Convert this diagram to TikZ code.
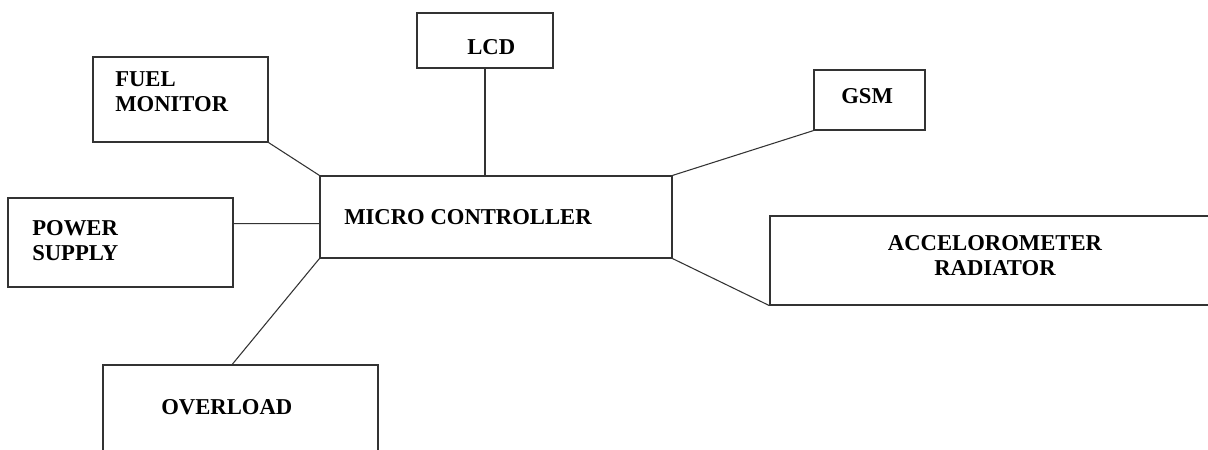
\documentclass[tikz,border=0pt]{standalone}
\usepackage{fontspec}
\setmainfont{Liberation Serif}
\usetikzlibrary{calc}

\begin{document}
\begin{tikzpicture}[x=0.75pt,y=-0.75pt,
  blk/.style={draw=black!80,line width=0.9pt,inner sep=0pt},
  lbl/.style={inner sep=0pt,font=\fontsize{17}{18.75}\selectfont\bfseries}]
\clip (0,0) rectangle (1208,450);
\fill[white] (0,0) rectangle (1208,450);
% blocks
\node[blk,minimum width=102pt,minimum height=41.25pt] (lcd) at (485,40.5) {};
\node[blk,minimum width=131.25pt,minimum height=63.75pt] (fuel) at (180.5,99.5) {};
\node[blk,minimum width=83.25pt,minimum height=45pt] (gsm) at (869.5,100) {};
\node[blk,minimum width=264pt,minimum height=61.5pt] (mc) at (496,217) {};
\node[blk,minimum width=168.75pt,minimum height=66.75pt] (ps) at (120.5,242.5) {};
\node[blk,minimum width=206.25pt,minimum height=78.75pt] (ovl) at (240.5,417.5) {};
\node[blk,minimum width=345pt,minimum height=66.75pt] (acc) at (1000,260.5) {};
% texts
\node[lbl,anchor=west] (lcdtxt) at (467,47) {LCD};
\node[lbl,anchor=west,align=left] (fueltxt) at (115,91.5) {FUEL\\MONITOR};
\node[lbl,anchor=west] (gsmtxt) at (841,96) {GSM};
\node[lbl,anchor=west] (mctxt) at (344,217) {MICRO CONTROLLER};
\node[lbl,anchor=west,align=left] (pstxt) at (32,241) {POWER\\SUPPLY};
\node[lbl,anchor=west] (ovltxt) at (161,407) {OVERLOAD};
\node[lbl,align=center] (acctxt) at (995,255.5) {ACCELOROMETER\\RADIATOR};
% links
\draw[black!80,line width=0.8pt] (fuel.south east) -- (mc.north west);
\draw[black!80,line width=0.8pt] (lcd.south) -- (lcd.south |- mc.north);
\draw[black!80,line width=0.8pt] (gsm.south west) -- (mc.north east);
\draw[black!80,line width=0.8pt] ($(ps.north east)!0.29!(ps.south east)$) -- ($(mc.north west)!0.58!(mc.south west)$);
\draw[black!80,line width=0.8pt] (mc.south west) -- ($(ovl.north west)!0.47!(ovl.north east)$);
\draw[black!80,line width=0.8pt] (mc.south east) -- (acc.south west);
\end{tikzpicture}
\end{document}
